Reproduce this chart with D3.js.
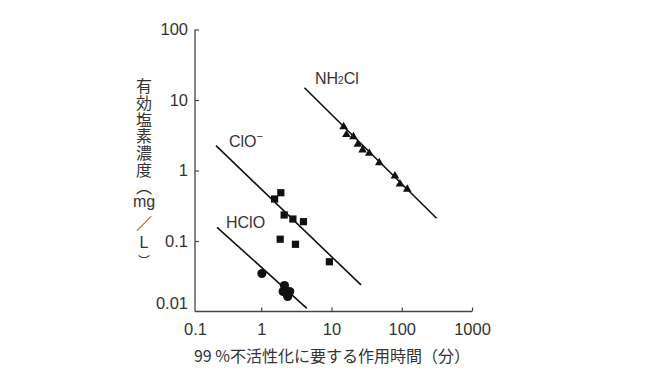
<!DOCTYPE html>
<html><head><meta charset="utf-8">
<script src="https://cdn.jsdelivr.net/npm/d3@7"></script>
<style>body{margin:0;background:#fff}svg{display:block}</style>
</head><body><svg id="c" width="645" height="375"></svg>
<script>
// ---- data ----
const xTickValues = [0.1, 1, 10, 100, 1000];
const yTickValues = [0.01, 0.1, 1, 10, 100];
const xTitle = "99 %不活性化に要する作用時間（分）";
const yTitleMain = "有効塩素濃度（";
const yTitleUnit = ["mg", "／", "L", "︶"];

// HClO (circles)
const hcloTime = [1.02, 2.14, 2.05, 2.54, 2.38];
const hcloConc = [0.0346, 0.0234, 0.0192, 0.0192, 0.0163];
// ClO- (squares)
const cloTime = [1.55, 1.90, 2.12, 2.82, 3.99, 1.86, 3.07, 9.33];
const cloConc = [0.394, 0.484, 0.234, 0.205, 0.188, 0.106, 0.0898, 0.0508];
// NH2Cl (triangles)
const nhTime = [14.9, 16.3, 20.5, 23.7, 27.7, 34.5, 47.9, 80.0, 94.3, 119.7];
const nhConc = [4.17, 3.23, 3.01, 2.36, 1.95, 1.75, 1.29, 0.836, 0.644, 0.541];

// fitted lines (end points)
const hcloLineTime = [0.235, 4.46];
const hcloLineConc = [0.156, 0.0111];
const cloLineTime = [0.227, 26.3];
const cloLineConc = [2.25, 0.0238];
const nhLineTime = [4.12, 313];
const nhLineConc = [14.9, 0.21];

// ---- layout ----
const svg = d3.select("#c");
const latin = "'Liberation Sans', Arial, sans-serif";
const cjk = "'Noto Sans CJK JP', 'Noto Sans', sans-serif";
const axisX = 195;
const x = d3.scaleLog().domain([0.1, 1000]).range([191, 472]);
const y = d3.scaleLog().domain([0.01, 100]).range([311.5, 29.5]);
const ink = "#333";

// axes lines
svg.append("line").attr("x1", axisX).attr("x2", axisX).attr("y1", y(100)).attr("y2", y(0.01))
  .attr("stroke", "#444").attr("stroke-width", 1.3);
svg.append("line").attr("x1", axisX).attr("x2", x(1000)).attr("y1", y(0.01)).attr("y2", y(0.01))
  .attr("stroke", "#444").attr("stroke-width", 1.3);

// y axis
const gy = svg.append("g").attr("transform", `translate(${axisX},0)`)
  .call(d3.axisLeft(y).tickValues(yTickValues).tickFormat(d => String(d)).tickSize(-4).tickPadding(7));
gy.select(".domain").remove();
gy.selectAll(".tick line").attr("stroke", "#444").attr("stroke-width", 1.2);
gy.selectAll(".tick text").attr("font-family", latin).attr("font-size", 16.5).attr("fill", ink);
gy.selectAll(".tick").filter(d => d === 0.01).select("line").remove();
gy.selectAll(".tick").filter(d => d === 0.01).select("text").attr("dy", "-0.2em");

// x axis
const gx = svg.append("g").attr("transform", `translate(0,${y(0.01)})`)
  .call(d3.axisBottom(x).tickValues(xTickValues).tickFormat(d => String(d)).tickSize(-4).tickPadding(12));
gx.select(".domain").remove();
gx.selectAll(".tick line").attr("stroke", "#444").attr("stroke-width", 1.2);
gx.selectAll(".tick text").attr("font-family", latin).attr("font-size", 16.5).attr("fill", ink);
gx.selectAll(".tick").filter(d => d === 0.1).select("line").remove();
gx.selectAll(".tick").filter(d => d === 0.1).select("text").attr("x", axisX - x(0.1));

// x title
svg.append("text").attr("x", 332).attr("y", 362).attr("text-anchor", "middle")
  .attr("font-family", cjk).attr("font-size", 16).attr("fill", ink).text(xTitle);

// y title (vertical)
svg.append("text").attr("x", 144).attr("y", 78)
  .attr("writing-mode", "vertical-rl").style("writing-mode", "vertical-rl")
  .attr("font-family", cjk).attr("font-size", 16).attr("letter-spacing", 0.8)
  .attr("fill", ink).text(yTitleMain);
const unitY = [201, 221.5, 242, 260];
svg.append("g").selectAll("text").data(yTitleUnit).join("text")
  .attr("x", 144).attr("y", (d, i) => unitY[i])
  .attr("text-anchor", "middle").attr("dominant-baseline", "central")
  .attr("font-family", d => (d === "mg" || d === "L") ? latin : cjk)
  .attr("font-size", d => d === "︶" ? 12 : 16).attr("fill", ink).text(d => d);

// fitted lines
const line = d3.line().x(d => x(d[0])).y(d => y(d[1]));
[[hcloLineTime, hcloLineConc], [cloLineTime, cloLineConc], [nhLineTime, nhLineConc]].forEach(([t, c]) => {
  svg.append("path").attr("d", line(d3.zip(t, c))).attr("fill", "none")
    .attr("stroke", "#111").attr("stroke-width", 1.6);
});

// markers
function drawMarkers(t, c, type, size) {
  svg.append("g").selectAll("path").data(d3.zip(t, c)).join("path")
    .attr("transform", d => `translate(${x(d[0])},${y(d[1])})`)
    .attr("d", d3.symbol().type(type).size(size)).attr("fill", "#111");
}
drawMarkers(hcloTime, hcloConc, d3.symbolCircle, 66);
drawMarkers(cloTime, cloConc, d3.symbolSquare, 52);
drawMarkers(nhTime, nhConc, d3.symbolTriangle, 32);

// series labels
const nh = svg.append("text").attr("x", 315).attr("y", 84).attr("font-family", latin)
  .attr("font-size", 16).attr("fill", ink);
nh.append("tspan").text("NH");
nh.append("tspan").attr("font-size", 10).text("2");
nh.append("tspan").text("Cl");

const clo = svg.append("text").attr("x", 229).attr("y", 146.5).attr("font-family", latin)
  .attr("font-size", 16).attr("fill", ink);
clo.append("tspan").text("ClO");
clo.append("tspan").attr("font-size", 11).attr("dy", -7).text("−");

svg.append("text").attr("x", 226).attr("y", 227.5).attr("font-family", latin)
  .attr("font-size", 16).attr("fill", ink).text("HClO");
</script></body></html>
